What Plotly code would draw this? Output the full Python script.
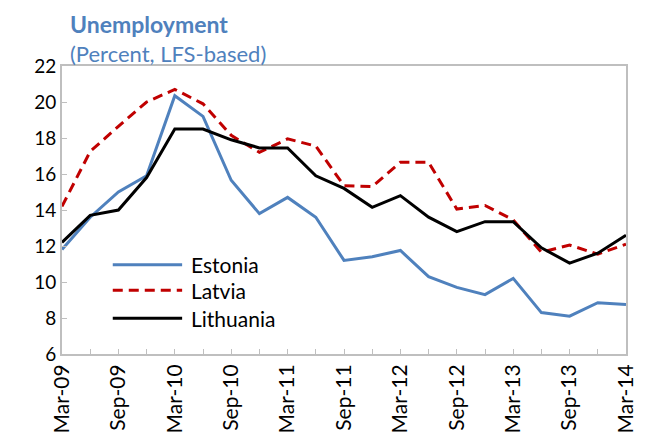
import plotly.graph_objects as go

quarters = ["Mar-09", "Jun-09", "Sep-09", "Dec-09", "Mar-10", "Jun-10", "Sep-10", "Dec-10",
            "Mar-11", "Jun-11", "Sep-11", "Dec-11", "Mar-12", "Jun-12", "Sep-12", "Dec-12",
            "Mar-13", "Jun-13", "Sep-13", "Dec-13", "Mar-14"]
estonia = [11.8, 13.6, 15.0, 15.9, 20.35, 19.2, 15.65, 13.8, 14.7, 13.6, 11.2, 11.4, 11.75,
           10.3, 9.7, 9.3, 10.2, 8.3, 8.1, 8.85, 8.75]
latvia = [14.2, 17.25, 18.65, 20.0, 20.7, 19.9, 18.15, 17.2, 17.95, 17.55, 15.35, 15.3, 16.65,
          16.65, 14.05, 14.25, 13.45, 11.65, 12.05, 11.55, 12.1]
lithuania = [12.2, 13.7, 14.0, 15.8, 18.5, 18.5, 17.9, 17.45, 17.45, 15.9, 15.2, 14.15, 14.8,
             13.6, 12.8, 13.35, 13.35, 11.9, 11.05, 11.6, 12.6]
y_ticks = [6, 8, 10, 12, 14, 16, 18, 20, 22]

BLUE = "#4F81BD"
RED = "#C00000"
BLACK = "#000000"
FONT = "Lato"

xs = list(range(len(quarters)))
fig = go.Figure()
series = [("Estonia", estonia, BLUE, "solid"),
          ("Latvia", latvia, RED, "dash"),
          ("Lithuania", lithuania, BLACK, "solid")]
DASH = "10px,6px"
for name, vals, col, dash in series:
    fig.add_trace(go.Scatter(x=xs, y=vals, mode="lines", name=name,
                             line=dict(color=col, width=3, dash=DASH if dash == "dash" else "solid"),
                             showlegend=False))

# manual legend (long sample lines as in the reference)
leg_y = [0.310, 0.221, 0.124]
for (name, vals, col, dash), yy in zip(series, leg_y):
    fig.add_shape(type="line", xref="paper", yref="paper", x0=0.09, x1=0.213, y0=yy, y1=yy,
                  line=dict(color=col, width=3, dash=DASH if dash == "dash" else "solid"))
    fig.add_annotation(text=name, xref="paper", yref="paper", x=0.226, y=yy, xanchor="left",
                       yanchor="middle", showarrow=False, font=dict(family=FONT, size=21, color="#000"))

ticktext = [q if i % 2 == 0 else "" for i, q in enumerate(quarters)]
fig.update_xaxes(range=[0, len(quarters) - 1], tickmode="array", tickvals=xs, ticktext=ticktext,
                 tickangle=-90, ticks="inside", ticklen=5, tickcolor="#BFBFBF", tickwidth=1,
                 showline=True, mirror=True, linecolor="#BFBFBF", linewidth=2, showgrid=False,
                 zeroline=False, tickfont=dict(family=FONT, size=21, color="#000"))
fig.update_yaxes(range=[6, 22], tickmode="array", tickvals=y_ticks, ticks="inside", ticklen=5,
                 tickcolor="#BFBFBF", tickwidth=1, showline=True, mirror=True, linecolor="#BFBFBF",
                 linewidth=2, showgrid=False, zeroline=False,
                 tickfont=dict(family=FONT, size=19, color="#000"))

fig.add_annotation(
    text="<span style='font-size:23px'><b>Unemployment</b></span><br>(Percent, LFS-based)",
    xref="paper", yref="paper", x=0.01, y=1.2, xanchor="left", yanchor="top", align="left",
    showarrow=False, font=dict(family=FONT, size=22, color=BLUE))

fig.update_layout(width=641, height=437, margin=dict(l=54, r=20, t=58, b=89),
                  plot_bgcolor="white", paper_bgcolor="white", showlegend=False)
fig.write_html("out.html")
